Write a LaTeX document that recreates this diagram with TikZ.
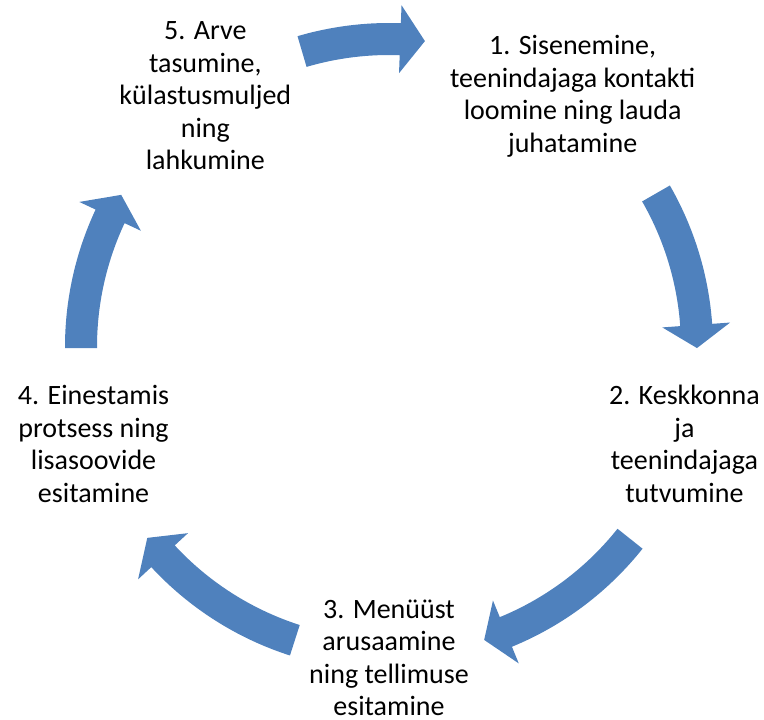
\documentclass[tikz,border=0pt]{standalone}
\usepackage{fontspec}
\setmainfont{Carlito}
\usepackage{xcolor}
\usetikzlibrary{calc}
\definecolor{cycleblue}{RGB}{79,129,189}

\begin{document}
\begin{tikzpicture}[x=1pt,y=1pt,
  stage/.style = {align=center,inner sep=0pt,
        font=\fontsize{28}{32.5}\selectfont},
  cyclearrow/.style = {fill=cycleblue}
]
 \useasboundingbox (-389,-373) rectangle (375,347);
 \coordinate (c) at (0,0);
 \node[stage] (n1) at ($(c)+(53.8:311)$)  {1. Sisenemine,\\teenindajaga kontakti\\loomine ning lauda\\juhatamine};
 \node[stage] (n2) at ($(c)+(-18.2:311)$) {2. Keskkonna\\ja\\teenindajaga\\tutvumine};
 \node[stage] (n3) at ($(c)+(-90:311)$)   {3. Menüüst\\arusaamine\\ning tellimuse\\esitamine};
 \node[stage] (n4) at ($(c)+(198.2:311)$) {4. Einestamis\\protsess ning\\lisasoovide\\esitamine};
 \node[stage] (n5) at ($(c)+(126.2:311)$) {5. Arve\\tasumine,\\külastusmuljed\\ning\\lahkumine};
 % block arrows round the cycle
 \fill[cyclearrow] (106.4:324) arc[start angle=106.4, end angle=87.9, radius=324] -- (87.9:342) -- (83.3:308) -- (87.9:274) -- (87.9:292) arc[start angle=87.9, end angle=106.4, radius=292] -- cycle;
 \fill[cyclearrow] (29.9:324) arc[start angle=29.9, end angle=4.1, radius=324] -- (4.1:342) -- (-0.2:308) -- (4.1:274) -- (4.1:292) arc[start angle=4.1, end angle=29.9, radius=292] -- cycle;
 \fill[cyclearrow] (-38.5:324) arc[start angle=-38.5, end angle=-67.7, radius=324] -- (-67.7:342) -- (-72:308) -- (-67.7:274) -- (-67.7:292) arc[start angle=-67.7, end angle=-38.5, radius=292] -- cycle;
 \fill[cyclearrow] (-107.8:324) arc[start angle=-107.8, end angle=-137.2, radius=324] -- (-137.2:342) -- (-141.7:308) -- (-137.2:274) -- (-137.2:292) arc[start angle=-137.2, end angle=-107.8, radius=292] -- cycle;
 \fill[cyclearrow] (180.2:324) arc[start angle=180.2, end angle=154.9, radius=324] -- (154.9:342) -- (150.4:308) -- (154.9:274) -- (154.9:292) arc[start angle=154.9, end angle=180.2, radius=292] -- cycle;
\end{tikzpicture}
\end{document}
